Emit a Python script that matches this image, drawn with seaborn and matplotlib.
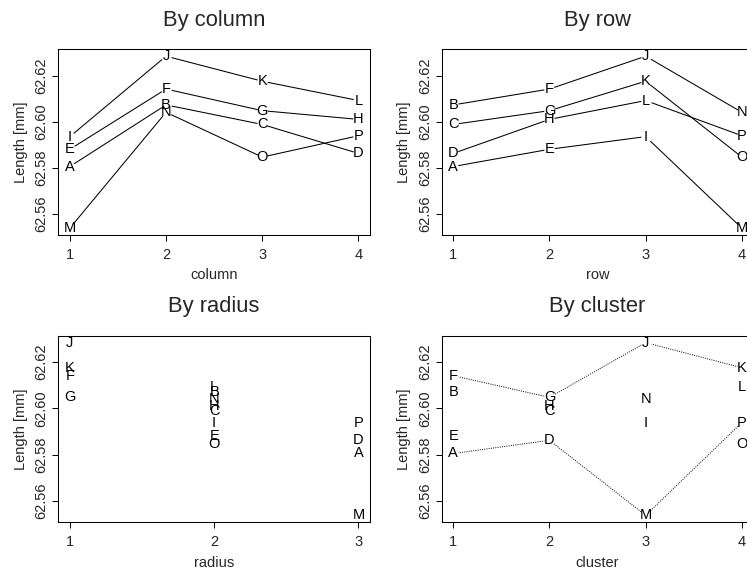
import matplotlib
matplotlib.use("Agg")
import matplotlib.pyplot as plt
import seaborn as sns
import pandas as pd
import numpy as np

# ---- data ----
pieces = list("ABCDEFGHIJKLMNOP")
length = [62.5805, 62.6073, 62.5988, 62.5862,
          62.5880, 62.6142, 62.6048, 62.6010,
          62.5935, 62.6285, 62.6176, 62.6092,
          62.5537, 62.6041, 62.5846, 62.5939]
row = [1, 1, 1, 1, 2, 2, 2, 2, 3, 3, 3, 3, 4, 4, 4, 4]
column = [1, 2, 3, 4, 1, 2, 3, 4, 1, 2, 3, 4, 1, 2, 3, 4]
radius = [3, 2, 2, 3, 2, 1, 1, 2, 2, 1, 1, 2, 3, 2, 2, 3]
cluster = [1, 1, 2, 2, 1, 1, 2, 2, 3, 3, 4, 4, 3, 3, 4, 4]
cluster_pos = ["corner", "", "", "corner", "", "inner", "inner", "",
               "", "inner", "inner", "", "corner", "", "", "corner"]
y_ticks = [62.56, 62.58, 62.60, 62.62]

df = pd.DataFrame(dict(piece=pieces, length=length, row=row, column=column,
                       radius=radius, cluster=cluster, cpos=cluster_pos))

sns.set_style("white")
plt.rcParams["font.family"] = ["Liberation Sans", "DejaVu Sans"]
plt.rcParams["axes.edgecolor"] = "black"
plt.rcParams["axes.linewidth"] = 0.75

FS = 10.5
TFS = 15.8
DPI = 100
W, H = 747, 571
fig = plt.figure(figsize=(W / DPI, H / DPI), dpi=DPI)

def rect(l, t, r, b):
    return [l / W, 1 - b / H, (r - l) / W, (b - t) / H]

ax_col = fig.add_axes(rect(58.3, 49.3, 370.0, 235.0))
ax_row = fig.add_axes(rect(441.7, 49.3, 753.4, 235.0))
ax_rad = fig.add_axes(rect(58.3, 335.7, 370.0, 522.3))
ax_clu = fig.add_axes(rect(441.7, 335.7, 753.4, 522.3))

ymin, ymax = min(length), max(length)
yr = ymax - ymin
ylim = (ymin - 0.04 * yr, ymax + 0.04 * yr)

line_kw = dict(estimator=None, color="black", linewidth=0.75, marker="o",
               markersize=7.5, markerfacecolor="white", markeredgewidth=0,
               legend=False, sort=True)

def finish(ax, xvar, title):
    for _, r in df.iterrows():
        ax.text(r[xvar], r["length"], r["piece"], ha="center", va="center",
                fontsize=FS, color="black", zorder=5)
    xs = sorted(df[xvar].unique())
    xr = xs[-1] - xs[0]
    ax.set_xlim(xs[0] - 0.04 * xr, xs[-1] + 0.04 * xr)
    ax.set_ylim(*ylim)
    ax.set_xticks(xs)
    ax.set_xticklabels([str(x) for x in xs])
    ax.set_yticks(y_ticks)
    ax.set_yticklabels([f"{v:.2f}" for v in y_ticks], rotation=90, va="center")
    ax.tick_params(axis="both", which="both", direction="out", length=4.5,
                   width=0.75, color="black", labelsize=FS, bottom=True, left=True)
    ax.tick_params(axis="x", pad=5)
    ax.tick_params(axis="y", pad=2.5)
    ax.set_xlabel(xvar, fontsize=FS, labelpad=4.5)
    ax.set_ylabel("Length [mm]", fontsize=FS, labelpad=5)
    ax.set_title(title, fontsize=TFS, pad=17)
    for s in ax.spines.values():
        s.set_visible(True)
        s.set_color("black")
        s.set_linewidth(0.75)

sns.lineplot(data=df, x="column", y="length", units="row", ax=ax_col, **line_kw)
finish(ax_col, "column", "By column")

sns.lineplot(data=df, x="row", y="length", units="column", ax=ax_row, **line_kw)
finish(ax_row, "row", "By row")

finish(ax_rad, "radius", "By radius")

sub = df[df["cpos"] != ""]
sns.lineplot(data=sub, x="cluster", y="length", units="cpos", ax=ax_clu, **line_kw)
for ln in ax_clu.get_lines():
    ln.set_linestyle((0, (1, 1.3)))
    ln.set_linewidth(0.7)
finish(ax_clu, "cluster", "By cluster")

fig.savefig("out.png", dpi=DPI)
